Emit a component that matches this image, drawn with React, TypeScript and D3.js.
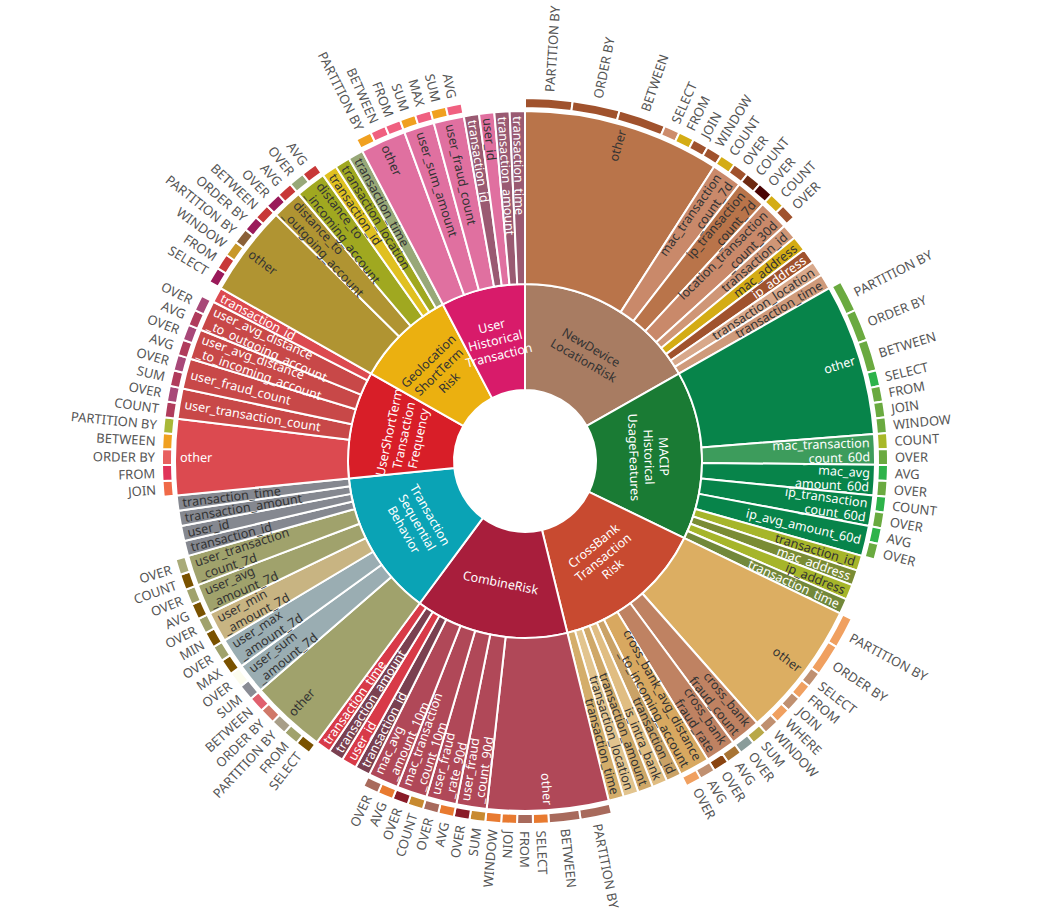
import React from "react";
import * as d3 from "d3";

// ---------- DATA ----------
const groupNames = [
  "NewDevice\nLocationRisk",
  "MACIP\nHistorical\nUsageFeatures",
  "CrossBank\nTransaction\nRisk",
  "CombineRisk",
  "Transaction\nSequential\nBehavior",
  "UserShortTerm\nTransaction\nFrequency",
  "Geolocation\nShortTerm\nRisk",
  "User\nHistorical\nTransaction",
];
const groupColors = ["#a87c62", "#1a7b34", "#c84a30", "#a81e3c", "#0aa3b5", "#d81e28", "#ebb010", "#d81b6a"];

// value of a feature that has no keyword children
const featureOwnValue = 1;

type KW = [string, number];

const newDeviceFeatures = ["other", "mac_transaction\n_count_7d", "ip_transaction\n_count_7d", "location_transaction\n_count_30d", "transaction_id", "mac_address", "ip_address", "transaction_location", "transaction_time"];
const newDeviceKeywords: KW[][] = [
  [["PARTITION BY", 3], ["ORDER BY", 3], ["BETWEEN", 3], ["SELECT", 1], ["FROM", 1], ["JOIN", 1], ["WINDOW", 1]],
  [["COUNT", 1], ["OVER", 1]],
  [["COUNT", 1], ["OVER", 1]],
  [["COUNT", 1], ["OVER", 1]],
  [], [], [], [], [],
];
const newDeviceFeatureColors = ["#b9744a", "#c9896a", "#b9744a", "#c9896a", "#cf9676", "#d4ac14", "#a0522d", "#d8a88a", "#cf9a7a"];
const newDeviceKeywordColors = [
  ["#a0522d", "#a0522d", "#a0522d", "#cd8c6c", "#d4ac14", "#a0522d", "#a0522d"],
  ["#d4ac14", "#a0522d"], ["#6e2a12", "#4a0404"], ["#d4ac14", "#a0522d"], [], [], [], [], [],
];

const macipFeatures = ["other", "mac_transaction\n_count_60d", "mac_avg\n_amount_60d", "ip_transaction\n_count_60d", "ip_avg_amount_60d", "transaction_id", "mac_address", "ip_address", "transaction_time"];
const macipKeywords: KW[][] = [
  [["PARTITION BY", 2], ["ORDER BY", 2], ["BETWEEN", 2], ["SELECT", 1], ["FROM", 1], ["JOIN", 1], ["WINDOW", 1]],
  [["COUNT", 1], ["OVER", 1]],
  [["AVG", 1], ["OVER", 1]],
  [["COUNT", 1], ["OVER", 1]],
  [["AVG", 1], ["OVER", 1]],
  [], [], [], [],
];
const macipFeatureColors = ["#07844a", "#3d9c5c", "#07844a", "#07844a", "#07844a", "#a6b52a", "#7a8c34", "#a6b52a", "#72883a"];
const macipKeywordColors = [
  ["#6aaa40", "#6aaa40", "#6aaa40", "#2db34a", "#6aaa40", "#6aaa40", "#6aaa40"],
  ["#a8b828", "#6aaa40"], ["#2db34a", "#6aaa40"], ["#2db34a", "#6aaa40"], ["#2db34a", "#6aaa40"], [], [], [], [],
];

const crossBankFeatures = ["other", "cross_bank\nfraud_count", "cross_bank\nfraud_rate", "cross_bank_avg_distance\n_to_incoming_account", "transaction_id", "is_intra_bank", "transaction_amount", "transaction_location", "transaction_time"];
const crossBankKeywords: KW[][] = [
  [["PARTITION BY", 2], ["ORDER BY", 2], ["SELECT", 1], ["FROM", 1], ["JOIN", 1], ["WHERE", 1], ["WINDOW", 1]],
  [["SUM", 1], ["OVER", 1]],
  [["AVG", 1], ["OVER", 1]],
  [["AVG", 1], ["OVER", 1]],
  [], [], [], [], [],
];
const crossBankFeatureColors = ["#dcae62", "#bf8262", "#bf8262", "#d8a860", "#caa266", "#e0bd82", "#cfa868", "#e2c48e", "#d4ad6a"];
const crossBankKeywordColors = [
  ["#f0a060", "#f0a060", "#c09070", "#f0a060", "#c09070", "#f0a060", "#c09070"],
  ["#b8a848", "#8a9c9a"], ["#a87434", "#8a4410"], ["#c09070", "#f0a060"], [], [], [], [], [],
];

const combineFeatures = ["other", "user_fraud\n_count_90d", "user_fraud\n_rate_90d", "mac_transaction\n_count_10m", "mac_avg\n_amount_10m", "transaction_id", "user_id", "transaction_amount", "transaction_time"];
const combineKeywords: KW[][] = [
  [["PARTITION BY", 2], ["BETWEEN", 2], ["SELECT", 1], ["FROM", 1], ["JOIN", 1], ["WINDOW", 1]],
  [["SUM", 1], ["OVER", 1]],
  [["AVG", 1], ["OVER", 1]],
  [["COUNT", 1], ["OVER", 1]],
  [["AVG", 1], ["OVER", 1]],
  [], [], [], [],
];
const combineFeatureColors = ["#b04858", "#b04858", "#b04858", "#b04858", "#b04858", "#7a4050", "#d83a48", "#7a4050", "#d83a48"];
const combineKeywordColors = [
  ["#a86a5c", "#a86a5c", "#e87a30", "#a86a5c", "#e87a30", "#e87a30"],
  ["#c88a30", "#8a1c28"], ["#e87a30", "#a86a5c"], ["#c88a30", "#8a1c28"], ["#e87a30", "#a86a5c"], [], [], [], [],
];

const sequentialFeatures = ["other", "user_sum\n_amount_7d", "user_max\n_amount_7d", "user_min\n_amount_7d", "user_avg\n_amount_7d", "user_transaction\n_count_7d", "transaction_id", "user_id", "transaction_amount", "transaction_time"];
const sequentialKeywords: KW[][] = [
  [["SELECT", 1], ["FROM", 1], ["PARTITION BY", 1], ["ORDER BY", 1], ["BETWEEN", 1]],
  [["SUM", 1], ["OVER", 1]],
  [["MAX", 1], ["OVER", 1]],
  [["MIN", 1], ["OVER", 1]],
  [["AVG", 1], ["OVER", 1]],
  [["COUNT", 1], ["OVER", 1]],
  [], [], [], [],
];
const sequentialFeatureColors = ["#a0a26c", "#9aadb2", "#9aadb2", "#c8b482", "#a0a26c", "#a0a26c", "#858890", "#858890", "#858890", "#858890"];
const sequentialKeywordColors = [
  ["#7a5200", "#a0a26c", "#a89e88", "#d07868", "#e0606e"],
  ["#8a8c94", "#fcfcee"], ["#7a5200", "#a0a26c"], ["#7a5200", "#a0a26c"], ["#7a5200", "#a0a26c"], ["#7a5200", "#a8aa78"], [], [], [], [],
];

const shortTermFeatures = ["other", "user_transaction_count", "user_fraud_count", "user_avg_distance\n_to_incoming_account", "user_avg_distance\n_to_outgoing_account", "transaction_id"];
const shortTermKeywords: KW[][] = [
  [["JOIN", 1], ["FROM", 1], ["ORDER BY", 1], ["BETWEEN", 1], ["PARTITION BY", 1]],
  [["COUNT", 1], ["OVER", 1]],
  [["SUM", 1], ["OVER", 1]],
  [["AVG", 1], ["OVER", 1]],
  [["AVG", 1], ["OVER", 1]],
  [],
];
const shortTermFeatureColors = ["#dc4a50", "#c84848", "#c84848", "#c84848", "#c84848", "#dc4a50"];
const shortTermKeywordColors = [
  ["#f06a48", "#e0345a", "#e86060", "#f0a020", "#a8b838"],
  ["#b03c5c", "#a84878"], ["#b03c5c", "#a84878"], ["#b03c5c", "#a84878"], ["#b03c5c", "#a84878"], [],
];

const geoFeatures = ["other", "distance_to\n_outgoing_account", "distance_to\n_incoming_account", "transaction_id", "transaction_location", "transaction_time"];
const geoKeywords: KW[][] = [
  [["SELECT", 1], ["FROM", 1], ["WINDOW", 1], ["PARTITION BY", 1], ["ORDER BY", 1], ["BETWEEN", 1]],
  [["OVER", 1], ["AVG", 1]],
  [["OVER", 1], ["AVG", 1]],
  [], [], [],
];
const geoFeatureColors = ["#b09432", "#b09432", "#a0a820", "#e0c020", "#a0a820", "#98a878"];
const geoKeywordColors = [
  ["#9a1a5a", "#c83838", "#c8982a", "#8a6038", "#9a1a5a", "#c83838"],
  ["#9a1a5a", "#c83838"], ["#98a878", "#c83838"], [], [], [],
];

const historicalFeatures = ["other", "user_sum_amount", "user_fraud_count", "transaction_id", "user_id", "transaction_amount", "transaction_time"];
const historicalKeywords: KW[][] = [
  [["PARTITION BY", 1], ["BETWEEN", 1], ["FROM", 1]],
  [["SUM", 1], ["MAX", 1]],
  [["SUM", 1], ["AVG", 1]],
  [], [], [], [],
];
const historicalFeatureColors = ["#e070a0", "#e070a0", "#e070a0", "#9a5a72", "#e070a0", "#9a5a72", "#9a5a72"];
const historicalKeywordColors = [
  ["#f0a020", "#f06080", "#f06080"], ["#f0a020", "#f06080"], ["#f0a020", "#f06080"], [], [], [], [],
];

const groupFeatures = [newDeviceFeatures, macipFeatures, crossBankFeatures, combineFeatures, sequentialFeatures, shortTermFeatures, geoFeatures, historicalFeatures];
const groupKeywords = [newDeviceKeywords, macipKeywords, crossBankKeywords, combineKeywords, sequentialKeywords, shortTermKeywords, geoKeywords, historicalKeywords];
const groupFeatureColors = [newDeviceFeatureColors, macipFeatureColors, crossBankFeatureColors, combineFeatureColors, sequentialFeatureColors, shortTermFeatureColors, geoFeatureColors, historicalFeatureColors];
const groupKeywordColors = [newDeviceKeywordColors, macipKeywordColors, crossBankKeywordColors, combineKeywordColors, sequentialKeywordColors, shortTermKeywordColors, geoKeywordColors, historicalKeywordColors];

// ---------- LAYOUT ----------
const W = 1045;
const H = 912;
const CX = 525;
const CY = 461;
const RADII: [number, number][] = [
  [0, 0],
  [71, 177],
  [177, 350],
  [353, 363],
];
const FONT = "'Noto Sans', 'Open Sans', sans-serif";

interface Node {
  name: string;
  color: string;
  value?: number;
  children?: Node[];
}

function buildTree(): Node {
  return {
    name: "root",
    color: "none",
    children: groupNames.map((g, gi) => ({
      name: g,
      color: groupColors[gi],
      children: groupFeatures[gi].map((f, fi) => {
        const kws = groupKeywords[gi][fi];
        if (kws.length === 0) return { name: f, color: groupFeatureColors[gi][fi], value: featureOwnValue };
        return {
          name: f,
          color: groupFeatureColors[gi][fi],
          children: kws.map(([k, v], ki) => ({ name: k, color: groupKeywordColors[gi][fi][ki], value: v })),
        };
      }),
    })),
  };
}

function textColor(hex: string): string {
  const c = d3.rgb(hex);
  const lum = 0.299 * c.r + 0.587 * c.g + 0.114 * c.b;
  return lum < 125 ? "#ffffff" : "#333333";
}

export default function App() {
  const root = d3.hierarchy<Node>(buildTree()).sum((d) => (d.children ? 0 : d.value || 0));
  const part = d3.partition<Node>().size([2 * Math.PI, 1])(root);
  const nodes = part.descendants().filter((d) => d.depth > 0);

  const arc = d3
    .arc<d3.HierarchyRectangularNode<Node>>()
    .startAngle((d) => d.x0)
    .endAngle((d) => d.x1)
    .innerRadius((d) => RADII[d.depth][0])
    .outerRadius((d) => RADII[d.depth][1]);

  const toDeg = (a: number) => (a * 180) / Math.PI;
  const pos = (a: number, r: number) => [r * Math.sin(a), -r * Math.cos(a)];

  const labels: React.ReactNode[] = [];
  nodes.forEach((d, i) => {
    const mid = (d.x0 + d.x1) / 2;
    const deg = toDeg(mid);
    const lines = d.data.name.split("\n");
    if (d.depth === 1) {
      const r = (RADII[1][0] + RADII[1][1]) / 2;
      const [x, y] = pos(mid, r);
      let rot = deg;
      if (deg > 90 && deg < 270) rot = deg - 180;
      else if (deg >= 270) rot = deg - 360;
      const lh = 15;
      labels.push(
        <text key={"l" + i} transform={`translate(${x},${y}) rotate(${rot})`} textAnchor="middle"
          fontSize={12.5} fontFamily={FONT} fill={textColor(d.data.color)}>
          {lines.map((l, li) => (
            <tspan key={li} x={0} y={(li - (lines.length - 1) / 2) * lh} dominantBaseline="central">{l}</tspan>
          ))}
        </text>
      );
    } else if (d.depth === 2) {
      const r = RADII[2][1] - 5;
      const [x, y] = pos(mid, r);
      const right = deg < 180;
      const rot = right ? deg - 90 : deg - 270;
      const lh = 14;
      labels.push(
        <text key={"l" + i} transform={`translate(${x},${y}) rotate(${rot})`} textAnchor={right ? "end" : "start"}
          fontSize={12.6} fontFamily={FONT} fill={textColor(d.data.color)}>
          {lines.map((l, li) => (
            <tspan key={li} x={0} y={(li - (lines.length - 1) / 2) * lh} dominantBaseline="central">{l}</tspan>
          ))}
        </text>
      );
    } else {
      const r = RADII[3][1] + 7;
      const [x, y] = pos(mid, r);
      const right = deg < 184;
      const rot = right ? deg - 90 : deg - 270;
      labels.push(
        <text key={"l" + i} transform={`translate(${x},${y}) rotate(${rot})`} textAnchor={right ? "start" : "end"}
          dominantBaseline="central" fontSize={13} fontFamily={FONT} fill="#555555">
          {d.data.name}
        </text>
      );
    }
  });

  return (
    <svg width={W} height={H} style={{ position: "absolute", left: 0, top: 0, background: "#ffffff" }}>
      <g transform={`translate(${CX},${CY})`}>
        {nodes.map((d, i) => (
          <path key={i} d={arc(d) || ""} fill={d.data.color} stroke="#ffffff" strokeWidth={2} strokeLinejoin="round" />
        ))}
        {labels}
      </g>
    </svg>
  );
}
